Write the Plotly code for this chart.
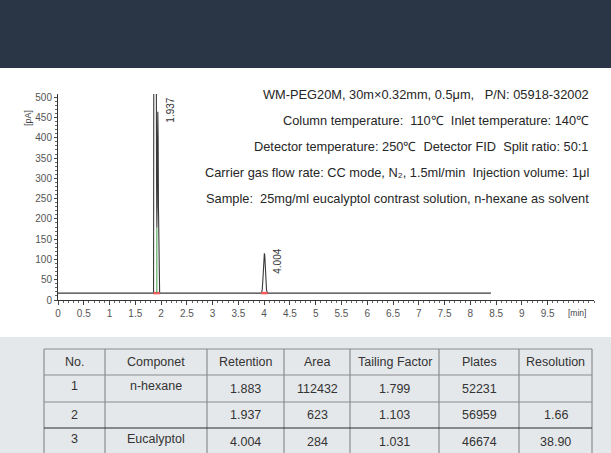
import plotly.graph_objects as go

# ---- chromatogram signal (time in min, detector signal in pA) ----
time_min = [0.0, 1.854, 1.860, 1.870, 1.883, 1.896, 1.906, 1.912, 1.918,
            1.924, 1.930, 1.937, 1.943, 1.949, 1.956, 1.964, 1.972,
            3.944, 3.962, 3.976, 3.988, 3.996, 4.004, 4.012, 4.020, 4.032,
            4.046, 4.064, 8.40]
signal_pA = [17, 17, 700, 2000, 2600, 2000, 700, 300, 178,
             230, 380, 464, 400, 230, 80, 25, 17,
             17, 24, 52, 92, 110, 115, 110, 92, 52,
             24, 17, 17]

# labelled peaks (retention time, apex height)
peak_rt = [1.937, 4.004]
peak_apex = [464, 115]
peak_label_shift = [2, -8]

# integration baseline segments and valley drop line
integ_start = [1.854, 3.944]
integ_end = [1.972, 4.064]
integ_level = 17
valley_rt = 1.918
valley_pA = 178

x_ticks = [0, 0.5, 1, 1.5, 2, 2.5, 3, 3.5, 4, 4.5, 5, 5.5, 6, 6.5, 7, 7.5, 8, 8.5, 9, 9.5]
y_ticks = [0, 50, 100, 150, 200, 250, 300, 350, 400, 450, 500]

conditions = [
    "WM-PEG20M, 30m×0.32mm, 0.5μm,   P/N: 05918-32002",
    "Column temperature:  110℃  Inlet temperature: 140℃",
    "Detector temperature: 250℃  Detector FID  Split ratio: 50:1",
    "Carrier gas flow rate: CC mode, N₂, 1.5ml/min  Injection volume: 1μl",
    "Sample:  25mg/ml eucalyptol contrast solution, n-hexane as solvent",
]

# ---- results table ----
headers = ["No.", "Componet", "Retention", "Area", "Tailing Factor", "Plates", "Resolution"]
col_no = ["1", "2", "3"]
col_component = ["n-hexane", "", "Eucalyptol"]
col_retention = ["1.883", "1.937", "4.004"]
col_area = ["112432", "623", "284"]
col_tailing = ["1.799", "1.103", "1.031"]
col_plates = ["52231", "56959", "46674"]
col_resolution = ["", "1.66", "38.90"]

# ---- page geometry (pixels) ----
W, H = 611, 453
L, R, T, B = 58, 594, 94, 300          # plot area edges


def px(x):
    return (x - L) / (R - L)


def py(y):
    return (B - y) / (B - T)


FONT = "Liberation Sans, Arial, sans-serif"

fig = go.Figure()

fig.add_trace(go.Scatter(x=time_min, y=signal_pA, mode="lines",
                         line=dict(color="#3a3a3a", width=1.1),
                         hoverinfo="skip", showlegend=False))

for s, e in zip(integ_start, integ_end):
    fig.add_trace(go.Scatter(x=[s, e], y=[integ_level, integ_level], mode="lines",
                             line=dict(color="#ff5a5a", width=2.5),
                             hoverinfo="skip", showlegend=False))

fig.add_trace(go.Scatter(x=[valley_rt, valley_rt], y=[integ_level, valley_pA], mode="lines",
                         line=dict(color="#3c9a45", width=1),
                         hoverinfo="skip", showlegend=False))

annotations = []
for rt, apex, sh in zip(peak_rt, peak_apex, peak_label_shift):
    annotations.append(dict(x=rt, y=apex, xref="x", yref="y", text=f"{rt:.3f}",
                            textangle=-90, showarrow=False, xanchor="center",
                            yanchor="middle", xshift=13, yshift=sh,
                            font=dict(family=FONT, size=10, color="#333")))

for i, line in enumerate(conditions):
    annotations.append(dict(x=px(591), y=py(94 + 26 * i), xref="paper", yref="paper",
                            text=line, showarrow=False, xanchor="right", yanchor="middle",
                            font=dict(family=FONT, size=12.8, color="#262626")))

annotations.append(dict(x=px(28), y=py(118), xref="paper", yref="paper", text="[pA]",
                        textangle=-90, showarrow=False, xanchor="center", yanchor="middle",
                        font=dict(family=FONT, size=9, color="#444")))
annotations.append(dict(x=px(577), y=py(313), xref="paper", yref="paper", text="[min]",
                        showarrow=False, xanchor="center", yanchor="middle",
                        font=dict(family=FONT, size=8.5, color="#444")))

shapes = [
    # dark header band
    dict(type="rect", xref="paper", yref="paper", x0=px(0), x1=px(W), y0=py(0), y1=py(68),
         fillcolor="#2a3645", line=dict(width=0), layer="below"),
    # grey panel behind the table
    dict(type="rect", xref="paper", yref="paper", x0=px(0), x1=px(W), y0=py(337), y1=py(H),
         fillcolor="#e5e8eb", line=dict(width=0), layer="below"),
]

col_edges = [44, 105, 207, 284, 350, 439, 519, 592]
row_edges = [349, 375, 402, 428, 470]
for i, xe in enumerate(col_edges):
    shapes.append(dict(type="line", xref="paper", yref="paper", x0=px(xe), x1=px(xe),
                       y0=py(row_edges[0]), y1=py(row_edges[-1]),
                       line=dict(color="#7a7a7a", width=1)))
for j, ye in enumerate(row_edges[:-1]):
    shapes.append(dict(type="line", xref="paper", yref="paper", x0=px(col_edges[0]),
                       x1=px(col_edges[-1]), y0=py(ye), y1=py(ye),
                       line=dict(color="#2a2a2a" if j == 3 else "#8a8a8a", width=1)))

centers = [(col_edges[k] + col_edges[k + 1]) / 2 for k in range(len(headers))]
for k, h in enumerate(headers):
    annotations.append(dict(x=px(centers[k]), y=py(362), xref="paper", yref="paper", text=h,
                            showarrow=False, xanchor="center", yanchor="middle",
                            font=dict(family=FONT, size=12.5, color="#333")))

columns = [col_no, col_component, col_retention, col_area, col_tailing, col_plates, col_resolution]
row_mid = [389, 415, 442]
for k, col in enumerate(columns):
    for r, val in enumerate(col):
        if not val:
            continue
        lift = 3 if (k < 2 and r != 1) else 0
        annotations.append(dict(x=px(centers[k]), y=py(row_mid[r] - lift), xref="paper",
                                yref="paper", text=val, showarrow=False, xanchor="center",
                                yanchor="middle",
                                font=dict(family=FONT, size=12.5, color="#333")))

fig.update_layout(
    width=W, height=H,
    margin=dict(l=L, r=W - R, t=T, b=H - B, pad=0),
    paper_bgcolor="white", plot_bgcolor="white",
    showlegend=False,
    xaxis=dict(range=[0, 10.4], tickvals=x_ticks, ticktext=[f"{v:g}" for v in x_ticks],
               showline=True, linecolor="#333", linewidth=1, showgrid=False, zeroline=False,
               ticks="outside", ticklen=4, tickcolor="#444", tickwidth=1,
               minor=dict(dtick=0.1, ticks="outside", ticklen=2, tickcolor="#666"),
               tickfont=dict(family=FONT, size=10, color="#555")),
    yaxis=dict(range=[0, 508], tickvals=y_ticks, showline=True, linecolor="#333",
               linewidth=1, showgrid=False, zeroline=False,
               ticks="outside", ticklen=3, tickcolor="#444", tickwidth=1,
               minor=dict(dtick=10, ticks="outside", ticklen=2, tickcolor="#666"),
               tickfont=dict(family=FONT, size=10, color="#555")),
    shapes=shapes,
    annotations=annotations,
)

fig.write_html("out.html")
